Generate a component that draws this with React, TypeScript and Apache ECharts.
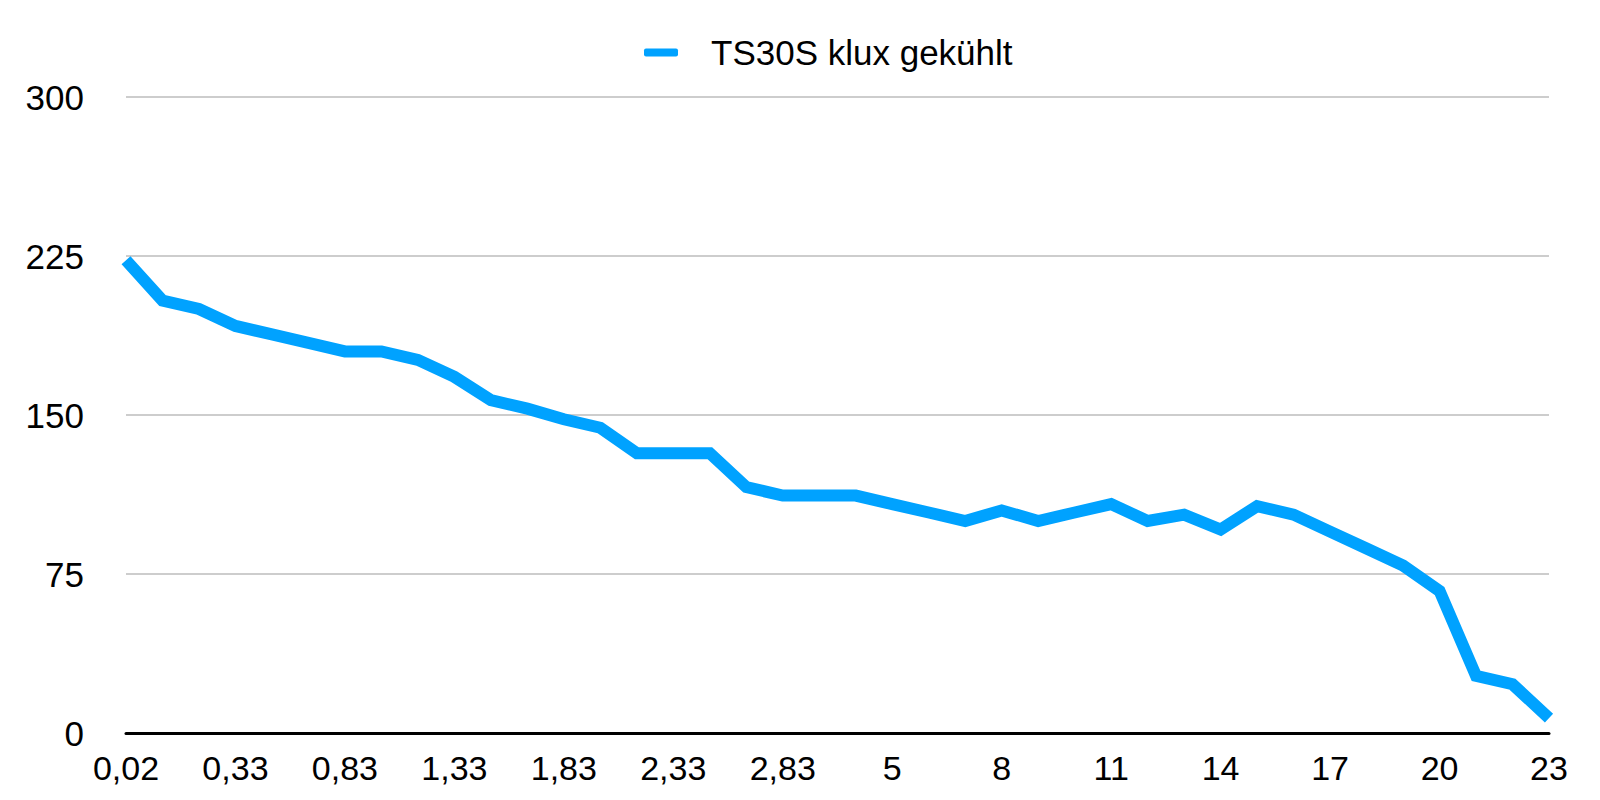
import React, { useEffect, useRef } from "react";
import * as echarts from "echarts";

const categories: string[] = [
  "0,02", "0,08", "0,17", "0,33", "0,5", "0,67", "0,83", "1", "1,17", "1,33",
  "1,5", "1,67", "1,83", "2", "2,17", "2,33", "2,5", "2,67", "2,83", "3",
  "4", "5", "6", "7", "8", "9", "10", "11", "12", "13",
  "14", "15", "16", "17", "18", "19", "20", "21", "22", "23",
];

const seriesName = "TS30S klux gekühlt";
const values: number[] = [
  223, 204, 200, 192, 188, 184, 180, 180, 176, 168,
  157, 153, 148, 144, 132, 132, 132, 116, 112, 112,
  112, 108, 104, 100, 105, 100, 104, 108, 100, 103,
  96, 107, 103, 95, 87, 79, 67, 27, 23, 7,
];

const yMin = 0;
const yMax = 300;
const yInterval = 75;

const FONT = "'Liberation Sans', Arial, Helvetica, sans-serif";

export default function App() {
  const ref = useRef<HTMLDivElement>(null);

  useEffect(() => {
    if (!ref.current) return;
    const chart = echarts.init(ref.current, null, { renderer: "svg" });
    chart.setOption({
      animation: false,
      backgroundColor: "#ffffff",
      textStyle: { fontFamily: FONT },
      legend: {
        left: 639,
        top: 30,
        icon: "roundRect",
        itemWidth: 34,
        itemHeight: 8,
        itemGap: 20,
        textStyle: { fontSize: 35, color: "#000000", fontFamily: FONT, padding: [0, 0, 0, 28] },
        data: [seriesName],
      },
      grid: {
        left: 126,
        right: 51,
        top: 97,
        bottom: 67,
        containLabel: false,
      },
      xAxis: {
        type: "category",
        data: categories,
        boundaryGap: false,
        axisLine: { show: true, lineStyle: { color: "#000000", width: 3 } },
        axisTick: { show: false },
        axisLabel: {
          interval: 2,
          fontSize: 34,
          color: "#000000",
          fontFamily: FONT,
          margin: 18,
        },
        splitLine: { show: false },
      },
      yAxis: {
        type: "value",
        min: yMin,
        max: yMax,
        interval: yInterval,
        axisLine: { show: false },
        axisTick: { show: false },
        axisLabel: {
          fontSize: 35,
          color: "#000000",
          fontFamily: FONT,
          margin: 42,
        },
        splitLine: { show: true, lineStyle: { color: "#bdbdbd", width: 1.5 } },
      },
      series: [
        {
          name: seriesName,
          type: "line",
          data: values,
          showSymbol: false,
          symbol: "none",
          lineStyle: { color: "#00a2ff", width: 12, cap: "butt", join: "miter" },
          itemStyle: { color: "#00a2ff" },
        },
      ],
    });
    return () => chart.dispose();
  }, []);

  return (
    <div
      ref={ref}
      style={{ position: "fixed", left: 0, top: 0, width: 1600, height: 800 }}
    />
  );
}
